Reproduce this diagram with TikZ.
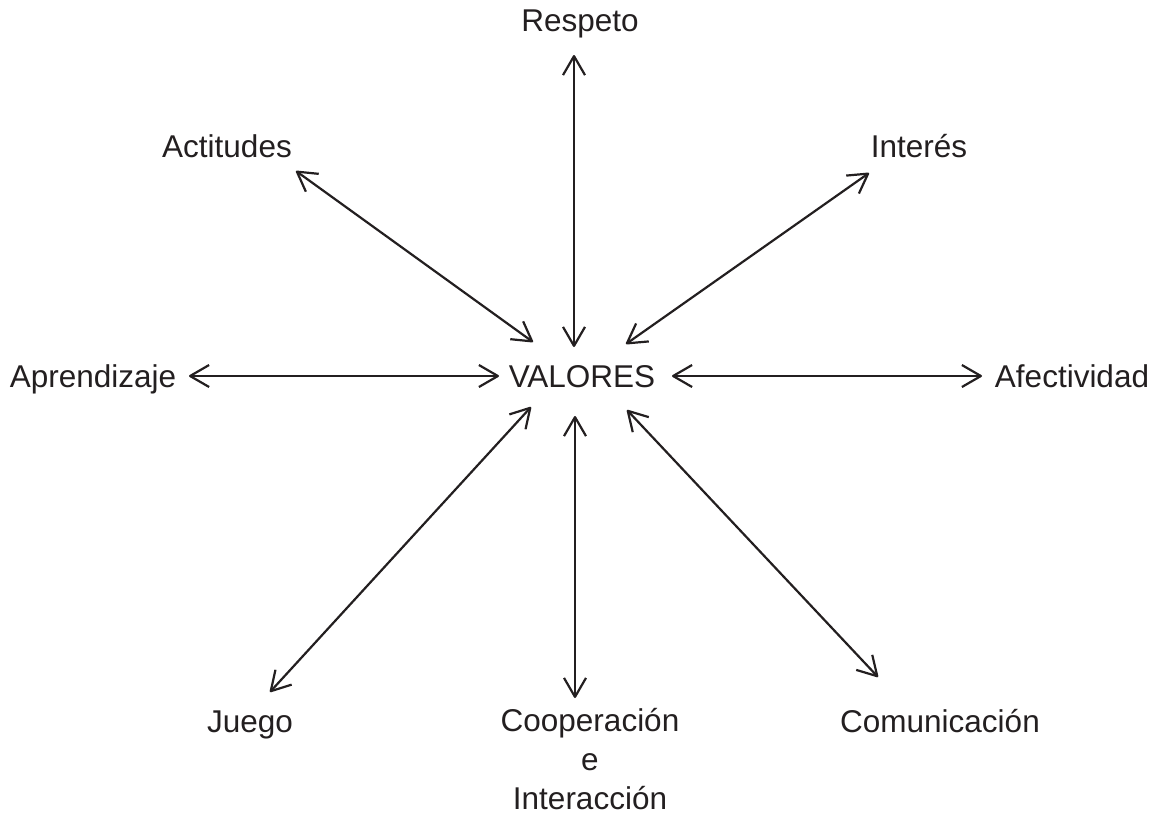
\documentclass[tikz,border=0pt]{standalone}
\usepackage{fontspec}
\setmainfont{Liberation Sans}
\usetikzlibrary{arrows.meta}
\definecolor{ink}{HTML}{231F20}
\begin{document}
\begin{tikzpicture}[x=1pt,y=-1pt,
  lbl/.style={anchor=base,inner sep=0pt,text=ink,font=\fontsize{31.5}{39}\selectfont},
  link/.style={draw=ink,line width=2.2pt,line cap=round,line join=round,
    {Straight Barb[length=19pt,width=22pt,line join=round]}-{Straight Barb[length=19pt,width=22pt,line join=round]}}]
\useasboundingbox (0,0) rectangle (1159,815);
% labels
\node[lbl] (val) at (582,387) {VALORES};
\node[lbl] (res) at (580,31) {Respeto};
\node[lbl] (act) at (227,157) {Actitudes};
\node[lbl] (int) at (919,157) {Interés};
\node[lbl] (apr) at (93,387) {Aprendizaje};
\node[lbl] (afe) at (1072,387) {Afectividad};
\node[lbl] (jue) at (250,732) {Juego};
\node[lbl,align=center,anchor=north] (coo) at (590,708) {Cooperación\\e\\Interacción};
\node[lbl] (com) at (940,732) {Comunicación};
% connector ends
\coordinate (vN) at (574,347);
\coordinate (vNW) at (533,342);
\coordinate (vNE) at (626,344);
\coordinate (vW) at (499,376);
\coordinate (vE) at (672,376);
\coordinate (vS) at (575,416);
\coordinate (vSW) at (531,407);
\coordinate (vSE) at (627,410);
\coordinate (resE) at (574,55);
\coordinate (actE) at (296,171);
\coordinate (intE) at (869,173);
\coordinate (aprE) at (189,376);
\coordinate (afeE) at (982,376);
\coordinate (jueE) at (270,692);
\coordinate (cooE) at (575,698);
\coordinate (comE) at (878,677);
% connectors
\draw[link] (resE) -- (vN);
\draw[link] (actE) -- (vNW);
\draw[link] (intE) -- (vNE);
\draw[link] (aprE) -- (vW);
\draw[link] (afeE) -- (vE);
\draw[link] (jueE) -- (vSW);
\draw[link] (cooE) -- (vS);
\draw[link] (comE) -- (vSE);
\end{tikzpicture}
\end{document}
